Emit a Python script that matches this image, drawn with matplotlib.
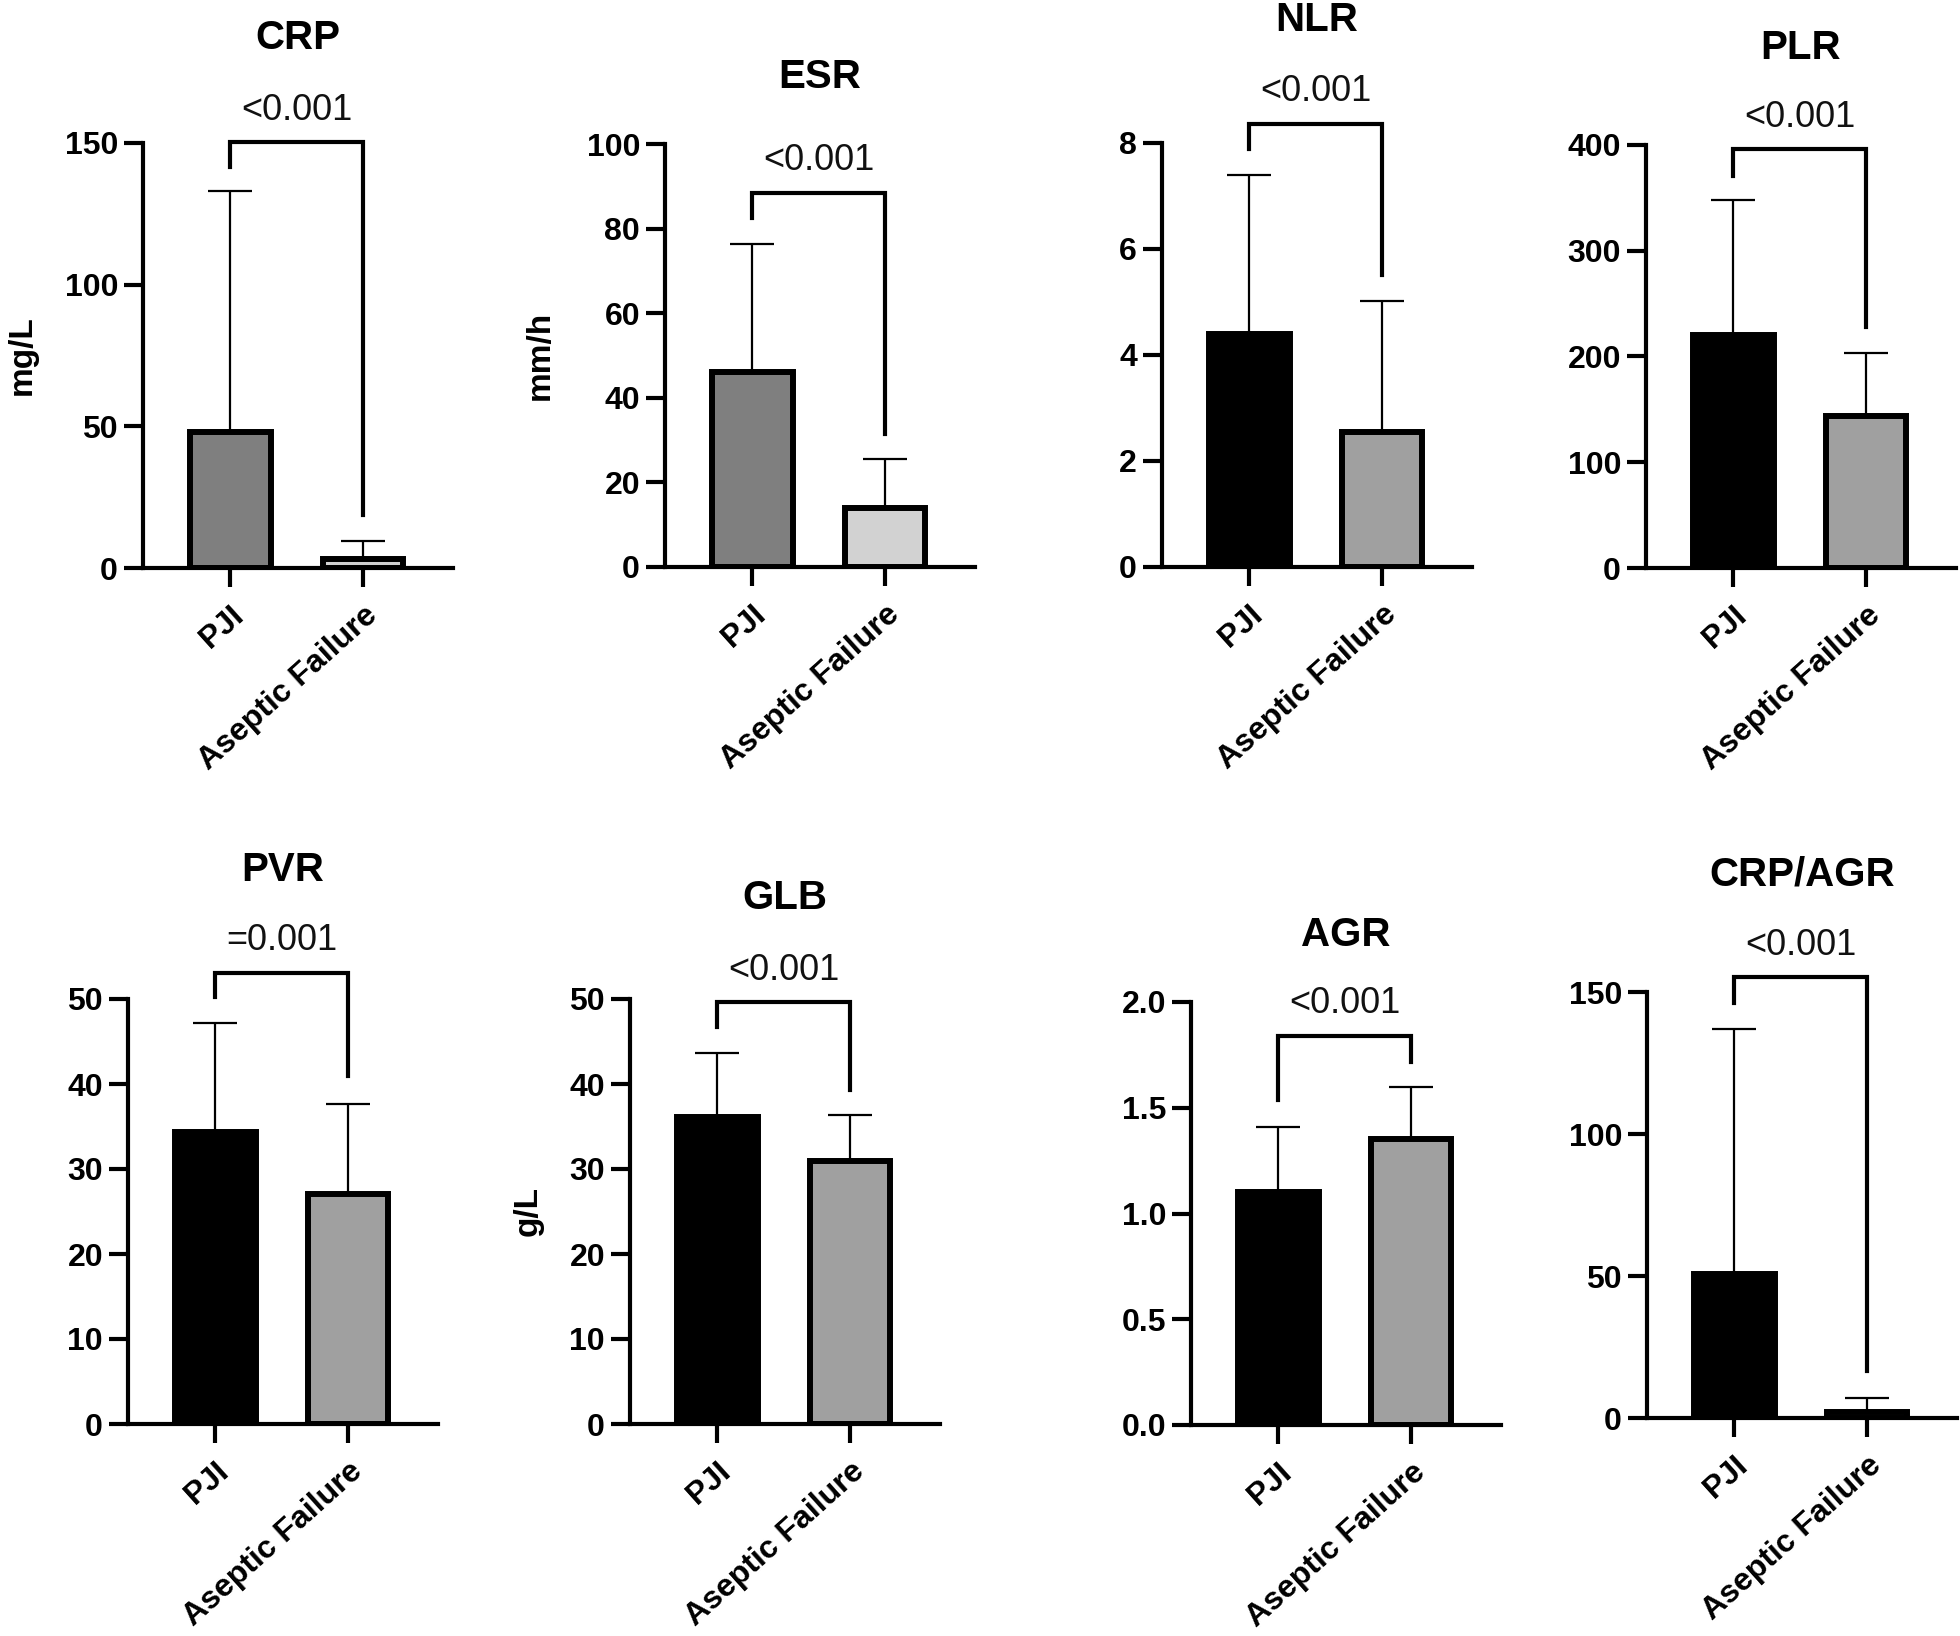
import matplotlib
matplotlib.use('Agg')
import matplotlib.pyplot as plt
from matplotlib.ticker import MultipleLocator, FormatStrFormatter
from matplotlib.transforms import ScaledTranslation

# Panel data: mean and SD for each group
titles = ['CRP', 'ESR', 'NLR', 'PLR', 'PVR', 'GLB', 'AGR', 'CRP/AGR']
ylabels = ['mg/L', 'mm/h', '', '', '', 'g/L', '', '']
groups = ['PJI', 'Aseptic Failure']

pji_mean = [48.0, 46.0, 4.4, 220.0, 34.4, 36.1, 1.10, 50.6]
pji_sd = [85.0, 30.4, 3.0, 128.0, 12.8, 7.6, 0.31, 86.5]
af_mean = [3.3, 13.9, 2.55, 144.0, 27.1, 30.9, 1.35, 2.2]
af_sd = [6.3, 11.6, 2.46, 59.0, 10.6, 5.4, 0.25, 4.8]

y_max = [150, 100, 8, 400, 50, 50, 2.0, 150]
y_step = [50, 20, 2, 100, 10, 10, 0.5, 50]

# significance brackets: bar height, left leg end, right leg end
bracket_y = [150.3, 88.5, 8.36, 396, 53.1, 49.6, 1.84, 155.2]
bracket_left = [141.5, 82.5, 7.88, 371, 50.2, 46.7, 1.537, 146.3]
bracket_right = [18.6, 31.4, 5.51, 227.5, 40.9, 39.3, 1.716, 16.6]
p_labels = ['<0.001', '<0.001', '<0.001', '<0.001',
            '=0.001', '<0.001', '<0.001', '<0.001']

pji_colors = ['#7f7f7f', '#7f7f7f', 'black', 'black',
              'black', 'black', 'black', 'black']
af_colors = ['#d2d2d2', '#d2d2d2', '#a0a0a0', '#a0a0a0',
             '#a0a0a0', '#a0a0a0', '#a0a0a0', '#a0a0a0']

# Layout (pixels in the 1960x1636 canvas)
W, H = 1960, 1636
ax_left = [143, 665, 1162, 1646, 128, 630, 1191, 1647]
ax_top = [143, 144, 143, 145, 999, 999, 1002, 992]
ax_bottom = [568, 567, 567, 568, 1424, 1424, 1425, 1418]
ax_width = 310
title_y = [38, 77, 20, 48, 870, 898, 935, 875]
ylabel_x = [22, 540, None, None, None, 528, None, None]

plt.rcParams['font.family'] = ['Liberation Sans', 'DejaVu Sans']

fig = plt.figure(figsize=(W / 100, H / 100), dpi=100)

for i, title in enumerate(titles):
    l = ax_left[i] / W
    b = 1 - ax_bottom[i] / H
    h = (ax_bottom[i] - ax_top[i]) / H
    ax = fig.add_axes([l, b, ax_width / W, h])

    ax.bar([0, 1], [pji_mean[i], af_mean[i]], width=0.61,
           color=[pji_colors[i], af_colors[i]], edgecolor='black',
           linewidth=4.3, zorder=2)
    ax.errorbar([0, 1], [pji_mean[i], af_mean[i]],
                yerr=[[0, 0], [pji_sd[i], af_sd[i]]], fmt='none',
                ecolor='black', elinewidth=1.6, capsize=16, capthick=1.6,
                zorder=3, clip_on=False)

    # significance bracket
    ax.plot([0, 0, 1, 1],
            [bracket_left[i], bracket_y[i], bracket_y[i], bracket_right[i]],
            color='black', linewidth=3, clip_on=False,
            solid_joinstyle='miter', zorder=4)
    ax.annotate(p_labels[i], xy=(0.5, bracket_y[i]), xycoords='data',
                xytext=(0, 23), textcoords='offset points',
                ha='center', va='center', fontsize=26, color='#111111',
                annotation_clip=False)

    ax.set_xlim(-0.66, 1.68)
    ax.set_ylim(0, y_max[i])
    ax.yaxis.set_major_locator(MultipleLocator(y_step[i]))
    if y_step[i] < 1:
        ax.yaxis.set_major_formatter(FormatStrFormatter('%.1f'))
    else:
        ax.yaxis.set_major_formatter(FormatStrFormatter('%d'))

    for side in ['top', 'right']:
        ax.spines[side].set_visible(False)
    for side in ['left', 'bottom']:
        ax.spines[side].set_linewidth(3)

    ax.set_xticks([0, 1])
    ax.set_xticklabels(groups, rotation=42, ha='right', va='top',
                       rotation_mode='anchor', fontsize=23,
                       fontweight='bold')
    offset = ScaledTranslation(5 / 72, 0, fig.dpi_scale_trans)
    for lab in ax.get_xticklabels():
        lab.set_transform(lab.get_transform() + offset)

    ax.tick_params(axis='y', direction='out', length=14, width=3,
                   pad=4, labelsize=23)
    ax.tick_params(axis='x', direction='out', length=14, width=3,
                   pad=9)
    for lab in ax.get_yticklabels():
        lab.set_fontweight('bold')

    # panel title
    cx = (ax_left[i] + ax_width / 2) / W
    fig.text(cx, 1 - title_y[i] / H, title, ha='center', va='center',
             fontsize=29, fontweight='bold')

    if ylabels[i]:
        cy = 1 - (ax_top[i] + ax_bottom[i]) / 2 / H
        fig.text(ylabel_x[i] / W, cy, ylabels[i], rotation=90,
                 ha='center', va='center', fontsize=24, fontweight='bold')

fig.savefig('out.png', dpi=100, facecolor='white')
